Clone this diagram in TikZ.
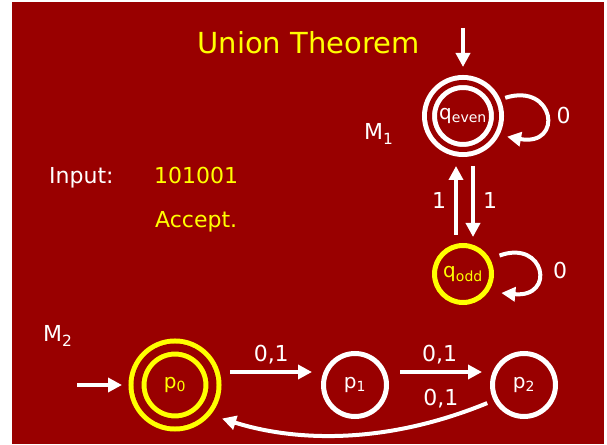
\documentclass[tikz,border=0pt]{standalone}
\usepackage{fontspec}
\setmainfont{DejaVu Sans}
\usetikzlibrary{arrows.meta,positioning}
\definecolor{utred}{HTML}{990000}
\definecolor{utyellow}{HTML}{FFFF00}
\definecolor{utwhite}{HTML}{FFFFFF}
\tikzset{
  ut text/.style={font=\fontsize{22}{26}\selectfont, text=utwhite, inner sep=0pt},
  ut title/.style={font=\fontsize{29}{34}\selectfont, text=utyellow, inner sep=0pt},
  ut state/.style={circle, draw=utwhite, line width=5pt, inner sep=0pt,
    font=\fontsize{20}{24}\selectfont, text=utwhite},
  ut accept/.style={double=utred, double distance=#1},
  ut arrow/.style={-{Triangle[length=14pt,width=14pt]}, line width=4pt,
    draw=utwhite},
  ut label/.style={font=\fontsize{22}{26}\selectfont, text=utwhite, inner sep=0pt}
}

\begin{document}
\begin{tikzpicture}[x=1pt, y=1pt]
  \useasboundingbox (0,0) rectangle (607,444);
  \fill[utred] (12,0) rectangle (604,442);

  \node[ut title] (title) at (308.5,401) {Union Theorem};

  \node[ut text, anchor=base west] (input) at (49,260) {Input:};
  \node[ut text, text=utyellow, anchor=base west] (word) at (154,260) {101001};
  \node[ut text, text=utyellow, anchor=base west] (verdict) at (155,216) {Accept.};

  \node[ut text, anchor=base west] (mone) at (364,304) {M\textsubscript{1}};
  \node[ut text, anchor=base west] (mtwo) at (43,102) {M\textsubscript{2}};

  \node[ut state, ut accept=5pt, minimum size=67pt, outer sep=7.5pt] (qeven) at (463,328) {q\textsubscript{even}};
  \node[ut state, draw=utyellow, text=utyellow, minimum size=57pt, outer sep=2.5pt] (qodd) at (463,170) {q\textsubscript{odd}};

  \node[ut state, draw=utyellow, text=utyellow, ut accept=8pt, minimum size=75pt, outer sep=9pt] (p0) at (175,59) {p\textsubscript{0}};
  \node[ut state, minimum size=63pt, outer sep=2.5pt] (p1) at (355,59) {p\textsubscript{1}};
  \node[ut state, minimum size=63pt, outer sep=2.5pt] (p2) at (524,59) {p\textsubscript{2}};

  \coordinate (startq) at (463,416);
  \coordinate (startp) at (77,59);

  \draw[ut arrow, shorten >=8pt] (startq) -- (qeven.north);
  \draw[ut arrow, shorten <=5pt, shorten >=8pt] (qeven.24) .. controls (555,362) and (564,297) .. node[ut label, right=10pt] {0} (qeven.-28);
  \draw[ut arrow, shorten <=8pt, shorten >=9pt] ([xshift=-7pt]qodd.north) -- node[ut label, left=8pt] {1} ([xshift=-7pt]qeven.south);
  \draw[ut arrow, shorten <=9pt, shorten >=6pt] ([xshift=10pt]qeven.south) -- node[ut label, right=8pt] {1} ([xshift=10pt]qodd.north);
  \draw[ut arrow, shorten <=10pt, shorten >=13pt] (qodd.29) .. controls (545,205) and (556,146) .. node[ut label, right=16pt] {0} (qodd.-35);

  \draw[ut arrow, shorten >=6.5pt] (startp) -- (p0.west);
  \draw[ut arrow, shorten <=8.5pt, shorten >=9pt] ([yshift=13pt]p0.east) -- node[ut label, above=6pt] {0,1} ([yshift=13pt]p1.west);
  \draw[ut arrow, shorten <=11pt, shorten >=8pt] ([yshift=13pt]p1.east) -- node[ut label, above=6pt] {0,1} ([yshift=13pt]p2.west);
  \draw[ut arrow, shorten <=7pt, shorten >=12pt] (p2.207) .. controls (380,-3) and (290,4) .. node[ut label, pos=0.16, above=8.5pt] {0,1} (p0.-40);
\end{tikzpicture}
\end{document}
